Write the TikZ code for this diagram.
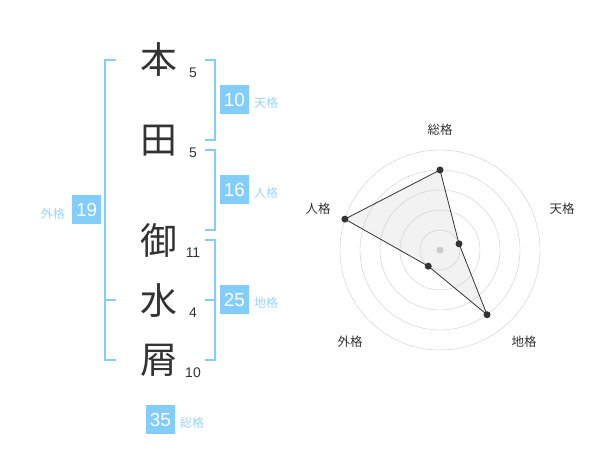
\documentclass[tikz,border=0pt]{standalone}
\usepackage{fontspec}
\setmainfont{Liberation Sans}
\newfontfamily\jpfont{Noto Sans CJK JP}
\definecolor{kakublue}{HTML}{82CDFA}
\definecolor{kakutext}{HTML}{9AD5F8}
\definecolor{kanjigray}{HTML}{333333}
\definecolor{ringgray}{HTML}{CCCCCC}
\definecolor{areagray}{HTML}{F2F2F2}

\begin{document}
\begin{tikzpicture}[x=1bp,y=1bp,
        kanji/.style={text=kanjigray,font=\jpfont\fontsize{37}{37}\selectfont,inner sep=0pt},
        kakusu/.style={text=kanjigray,font=\fontsize{14}{14}\selectfont,inner sep=0pt},
        kakubox/.style={fill=kakublue,text=white,minimum size=29bp,inner sep=0pt,font=\fontsize{19}{19}\selectfont},
        kakuname/.style={text=kakutext,font=\jpfont\fontsize{12}{12}\selectfont,inner sep=0pt},
        bracket/.style={draw=kakublue,line width=2bp},
        axisname/.style={text=kanjigray,font=\jpfont\fontsize{12.5}{12.5}\selectfont,inner sep=0pt},
        radardot/.style={circle,fill=kanjigray,inner sep=0pt,minimum size=7bp}]
        \useasboundingbox (0,0) rectangle (600,470);
        % name and strokes
        \foreach \c/\y/\n/\ny [count=\i] in {本/410/5/397, 田/329/5/317, 御/230/11/217, 水/169/4/157, 屑/110/10/97}
        {
            \node[kanji] (kanji\i) at (159,\y) {\c};
            \node[kakusu] (kakusu\i) at (193,\ny) {\n};
        }
        % brackets
        \draw[bracket] (116,410) -- (105,410) -- (105,110) -- (116,110);
        \draw[bracket] (105,170) -- (116,170);
        \draw[bracket] (205,410) -- (215,410) -- (215,330) -- (205,330);
        \draw[bracket] (205,320) -- (215,320) -- (215,240) -- (205,240);
        \draw[bracket] (205,230) -- (215,230) -- (215,110) -- (205,110);
        \draw[bracket] (205,170) -- (215,170);
        % boxes
        \node[kakubox] (tenkaku) at (234.3,370) {10};
        \node[kakuname,anchor=west] (tenname) at ([xshift=5bp,yshift=-3bp]tenkaku.east) {天格};
        \node[kakubox] (jinkaku) at (234.3,280) {16};
        \node[kakuname,anchor=west] (jinname) at ([xshift=5bp,yshift=-3bp]jinkaku.east) {人格};
        \node[kakubox] (chikaku) at (234.3,170) {25};
        \node[kakuname,anchor=west] (chiname) at ([xshift=5bp,yshift=-3bp]chikaku.east) {地格};
        \node[kakubox] (gaikaku) at (86.7,260) {19};
        \node[kakuname,anchor=east] (gainame) at ([xshift=-7bp,yshift=-4bp]gaikaku.west) {外格};
        \node[kakubox] (soukaku) at (160.3,50.5) {35};
        \node[kakuname,anchor=west] (souname) at ([xshift=5bp,yshift=-3bp]soukaku.east) {総格};
        % radar
        \begin{scope}[shift={(440,220)}]
            \coordinate (rso) at (90:80);
            \coordinate (rten) at (18:20);
            \coordinate (rchi) at (-54:80);
            \coordinate (rgai) at (234:20);
            \coordinate (rjin) at (162:100);
            \fill[areagray] (rso) -- (rten) -- (rchi) -- (rgai) -- (rjin) -- cycle;
            \foreach \r in {20,40,...,100}
                \draw[ringgray] (0,0) circle (\r);
            \draw[kanjigray,line width=0.8bp] (rso) -- (rten) -- (rchi) -- (rgai) -- (rjin) -- cycle;
            \fill[ringgray] (0,0) circle (3.5);
            \foreach \p in {rso,rten,rchi,rgai,rjin}
                \node[radardot] at (\p) {};
            \node[axisname] (lso) at (0,120) {総格};
            \node[axisname] (lten) at (122,41) {天格};
            \node[axisname] (ljin) at (-122,41) {人格};
            \node[axisname] (lgai) at (-90,-92) {外格};
            \node[axisname] (lchi) at (84,-92) {地格};
        \end{scope}
\end{tikzpicture}
\end{document}
